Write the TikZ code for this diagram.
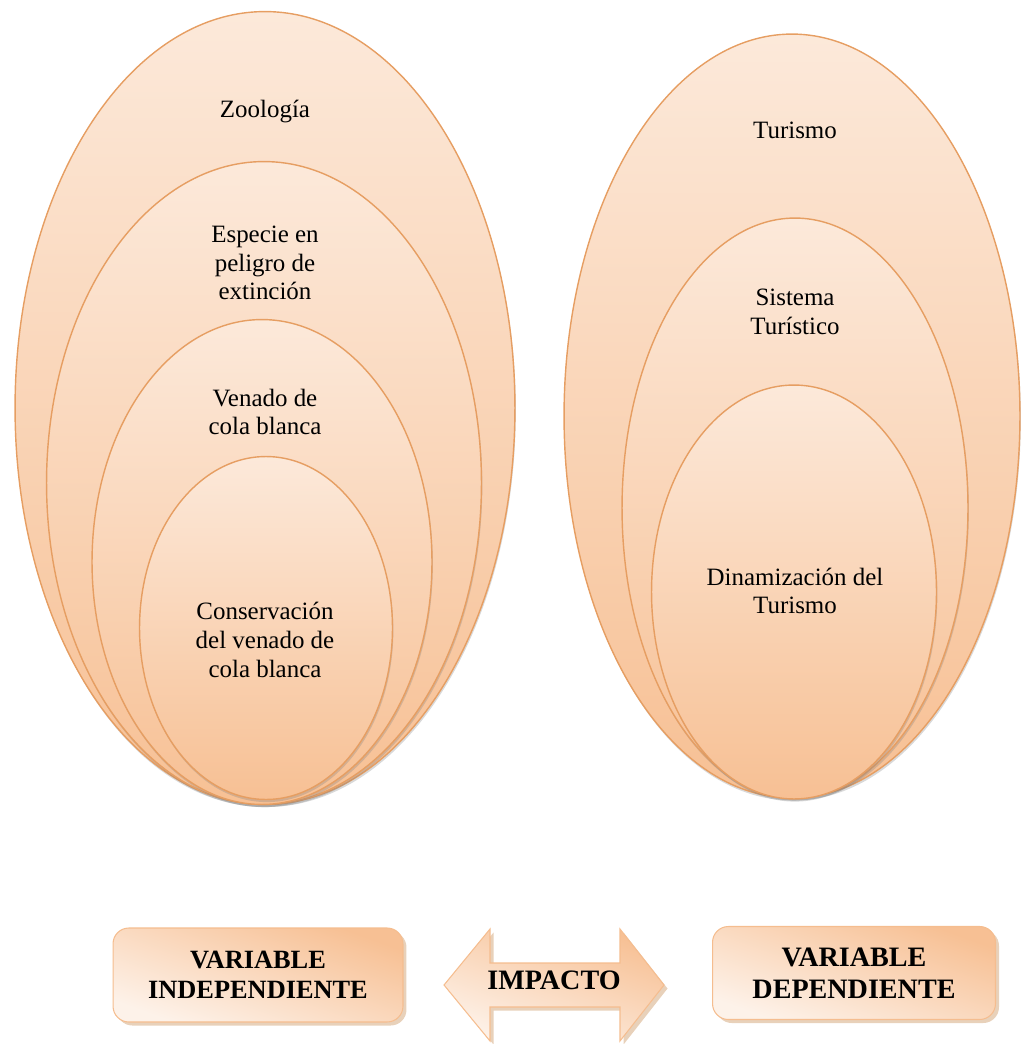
\documentclass[tikz,border=0pt]{standalone}
\usepackage{fontspec}
\setmainfont{Liberation Serif}
\usetikzlibrary{shapes.geometric,shadows,positioning}
\definecolor{peachlt}{RGB}{252,233,218}
\definecolor{peachdk}{RGB}{247,192,148}
\definecolor{peachln}{RGB}{230,158,98}

\begin{document}
\begin{tikzpicture}[x=0.02cm, y=-0.02cm,
    oval/.style = {shape=ellipse, draw=peachln, line width=0.8pt, inner sep=0pt,
    top color=peachlt, bottom color=peachdk,
    drop shadow={shadow xshift=0.5pt, shadow yshift=-1.5pt, opacity=.3}},
    lbl/.style = {align=center, font=\fontsize{14.2}{16.4}\selectfont},
    varbox/.style = {shape=rectangle, rounded corners=9pt, draw=peachdk!90!peachln, line width=0.6pt,
    top color=peachdk, bottom color=peachlt!60!white, shading angle=-20,
    drop shadow={shadow xshift=2pt, shadow yshift=-2pt, fill=brown!60, opacity=.6},
    align=center, font=\bfseries\fontsize{15}{17}\selectfont}]
\useasboundingbox (0,0) rectangle (1021,1044);

% independiente
\node[oval, minimum width=10cm, minimum height=15.86cm] (zoo) at (265,408) {};
\node[oval, minimum width=8.7cm, minimum height=12.86cm] (esp) at (264,483) {};
\node[oval, minimum width=6.8cm, minimum height=9.7cm] (ven) at (262,562) {};
\node[oval, minimum width=5.06cm, minimum height=6.86cm] (con) at (266,628) {};
\node[lbl] (zootxt) at (265,112) {Zoología};
\node[lbl] (esptxt) at (265,263) {Especie en\\peligro de\\extinción};
\node[lbl] (ventxt) at (265,412) {Venado de\\cola blanca};
\node[lbl] (contxt) at (265,640) {Conservación\\del venado de\\cola blanca};

% dependiente
\node[oval, minimum width=9.12cm, minimum height=15.28cm] (tur) at (792,416) {};
\node[oval, minimum width=6.92cm, minimum height=11.6cm] (sis) at (795,508) {};
\node[oval, minimum width=5.7cm, minimum height=8.28cm] (din) at (794,592) {};
\node[lbl] (turtxt) at (795,130) {Turismo};
\node[lbl] (sistxt) at (795,312) {Sistema\\Turístico};
\node[lbl] (dintxt) at (795,591) {Dinamización del\\Turismo};

% variables
\node[varbox, minimum width=5.8cm, minimum height=1.88cm] (indep) at (258,975) {VARIABLE\\INDEPENDIENTE};
\node[varbox, minimum width=5.66cm, minimum height=1.86cm, font=\bfseries\fontsize{16}{18}\selectfont] (dep) at (854,973) {VARIABLE\\DEPENDIENTE};
\path[draw=peachdk!90!peachln, line width=0.6pt, top color=peachdk, bottom color=peachlt!60!white, shading angle=-20,
    drop shadow={shadow xshift=2pt, shadow yshift=-2pt, fill=brown!60, opacity=.6}]
    (444,985) -- (490,929) -- (490,963) -- (620,963) -- (620,929) -- (664,985)
    -- (620,1041) -- (620,1007) -- (490,1007) -- (490,1041) -- cycle;
\node[font=\bfseries\fontsize{16}{18}\selectfont] (imp) at (554,980) {IMPACTO};
\end{tikzpicture}
\end{document}
